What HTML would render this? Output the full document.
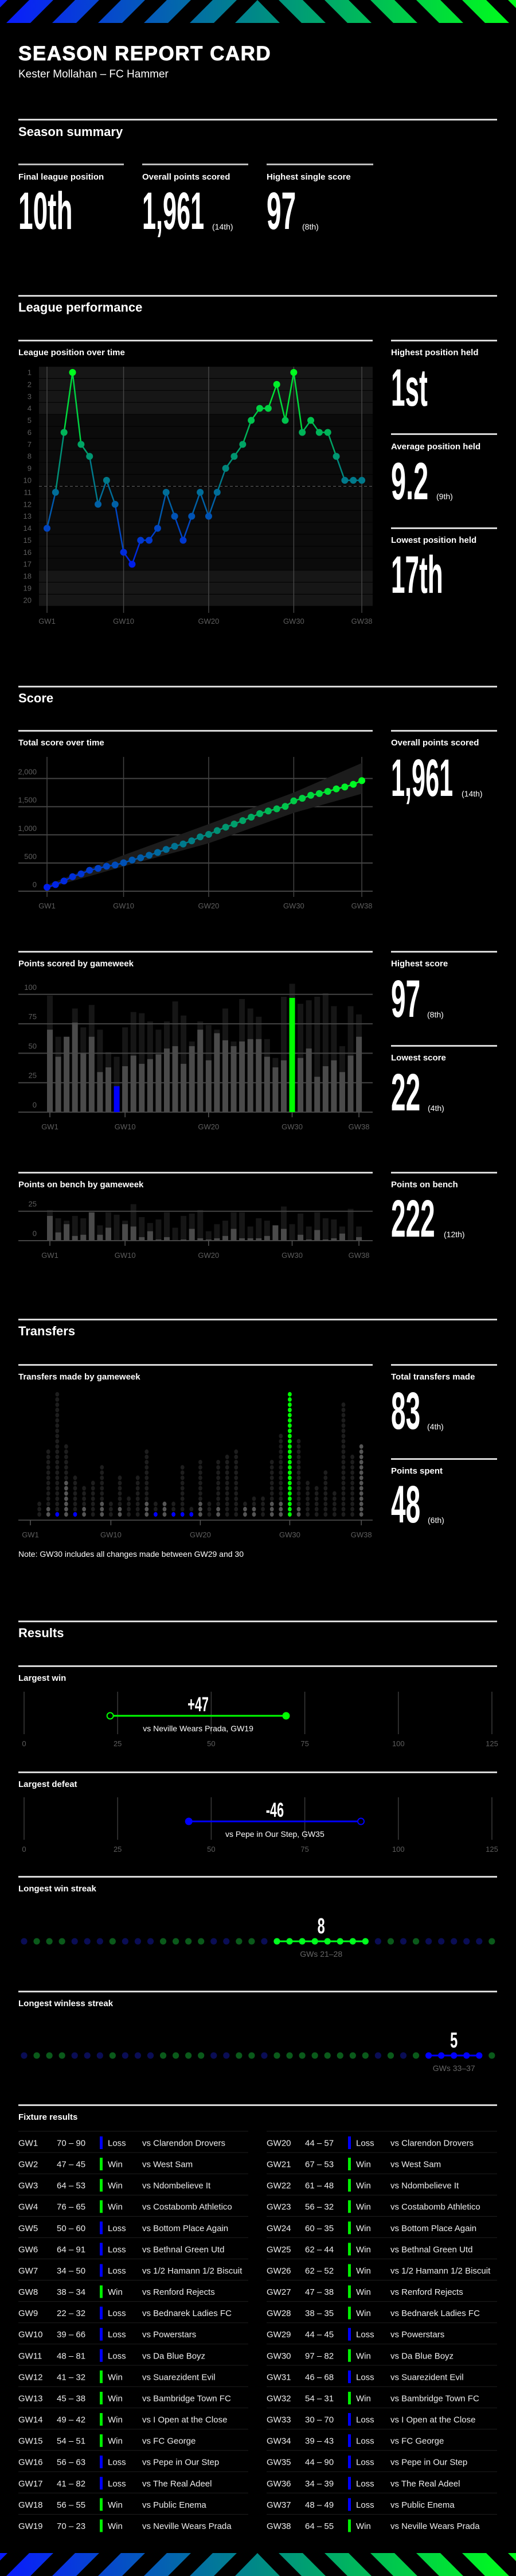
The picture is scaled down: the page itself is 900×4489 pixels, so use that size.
<!DOCTYPE html>
<html><head><meta charset="utf-8"><title>Season Report Card</title>
<style>
html,body{margin:0;padding:0;background:#000;}
svg{display:block;}
text{font-family:"Liberation Sans",Arial,sans-serif;}
.h1{font-size:35px;font-weight:bold;fill:#fff;stroke:#fff;stroke-width:0.8px;letter-spacing:1.5px;}
.sub{font-size:19px;fill:#fff;}
.sec{font-size:22px;font-weight:bold;fill:#fff;}
.lab{font-size:15px;font-weight:bold;fill:#fff;}
.big{font-size:92px;font-weight:bold;fill:#fff;}
.rank{font-size:14px;fill:#fff;}
.tick{font-size:13px;fill:#5e5e5e;}
.fx{font-size:15px;fill:#eee;}
</style></head>
<body>
<svg id="page" xmlns="http://www.w3.org/2000/svg" width="900" height="4489" viewBox="0 0 900 4489">
<defs>
<linearGradient id="stripeGrad" x1="0" y1="0" x2="900" y2="0" gradientUnits="userSpaceOnUse">
<stop offset="0" stop-color="#0a1aff"/><stop offset="0.5" stop-color="#008a86"/><stop offset="1" stop-color="#00ff1a"/>
</linearGradient>
</defs>
<rect x="0" y="0" width="900" height="4489" fill="#000"/>
<g id="headerStripes"></g>
<g id="footerStripes" transform="translate(0,4449)"></g>

<text class="h1" x="32" y="105">SEASON REPORT CARD</text>
<text class="sub" x="32" y="135">Kester Mollahan – FC Hammer</text>

<rect x="32" y="207" width="835" height="3" fill="#d8d8d8"/>
<text class="sec" x="32" y="237">Season summary</text>
<rect x="32" y="285" width="184" height="3" fill="#bdbdbd"/>
<rect x="248" y="285" width="185" height="3" fill="#bdbdbd"/>
<rect x="465" y="285" width="186" height="3" fill="#bdbdbd"/>
<text class="lab" x="32" y="313">Final league position</text>
<text class="lab" x="248" y="313">Overall points scored</text>
<text class="lab" x="465" y="313">Highest single score</text>
<text class="big" transform="translate(32,399) scale(0.5,1)">10th</text>
<text class="big" transform="translate(248,399) scale(0.47,1)">1,961</text>
<text class="rank" x="370" y="400">(14th)</text>
<text class="big" transform="translate(465,399) scale(0.5,1)">97</text>
<text class="rank" x="527" y="400">(8th)</text>

<rect x="32" y="514" width="835" height="3" fill="#d8d8d8"/>
<text class="sec" x="32" y="543">League performance</text>
<rect x="32" y="592" width="618" height="3" fill="#d8d8d8"/>
<text class="lab" x="32" y="619">League position over time</text>
<g id="leagueChart"></g>
<rect x="682" y="592" width="185" height="3" fill="#d8d8d8"/>
<text class="lab" x="682" y="619">Highest position held</text>
<text class="big" transform="translate(682,707) scale(0.48,1)">1st</text>
<rect x="682" y="755" width="185" height="3" fill="#d8d8d8"/>
<text class="lab" x="682" y="783">Average position held</text>
<text class="big" transform="translate(682,870) scale(0.51,1)">9.2</text>
<text class="rank" x="761" y="870">(9th)</text>
<rect x="682" y="919" width="185" height="3" fill="#d8d8d8"/>
<text class="lab" x="682" y="946">Lowest position held</text>
<text class="big" transform="translate(682,1033) scale(0.48,1)">17th</text>

<rect x="32" y="1195" width="835" height="3" fill="#d8d8d8"/>
<text class="sec" x="32" y="1224">Score</text>
<rect x="32" y="1272" width="618" height="3" fill="#d8d8d8"/>
<text class="lab" x="32" y="1299">Total score over time</text>
<g id="scoreChart"></g>
<rect x="682" y="1272" width="185" height="3" fill="#d8d8d8"/>
<text class="lab" x="682" y="1299">Overall points scored</text>
<text class="big" transform="translate(682,1387) scale(0.47,1)">1,961</text>
<text class="rank" x="805" y="1388">(14th)</text>

<rect x="32" y="1657" width="618" height="3" fill="#d8d8d8"/>
<text class="lab" x="32" y="1684">Points scored by gameweek</text>
<g id="pointsChart"></g>
<rect x="682" y="1657" width="185" height="3" fill="#d8d8d8"/>
<text class="lab" x="682" y="1684">Highest score</text>
<text class="big" transform="translate(682,1772) scale(0.5,1)">97</text>
<text class="rank" x="745" y="1773">(8th)</text>
<rect x="682" y="1821" width="185" height="3" fill="#d8d8d8"/>
<text class="lab" x="682" y="1848">Lowest score</text>
<text class="big" transform="translate(682,1935) scale(0.5,1)">22</text>
<text class="rank" x="746" y="1936">(4th)</text>

<rect x="32" y="2042" width="618" height="3" fill="#d8d8d8"/>
<text class="lab" x="32" y="2069">Points on bench by gameweek</text>
<g id="benchChart"></g>
<rect x="682" y="2042" width="185" height="3" fill="#d8d8d8"/>
<text class="lab" x="682" y="2069">Points on bench</text>
<text class="big" transform="translate(682,2155) scale(0.5,1)">222</text>
<text class="rank" x="774" y="2156">(12th)</text>

<rect x="32" y="2298" width="835" height="3" fill="#d8d8d8"/>
<text class="sec" x="32" y="2327">Transfers</text>
<rect x="32" y="2377" width="618" height="3" fill="#d8d8d8"/>
<text class="lab" x="32" y="2404">Transfers made by gameweek</text>
<g id="transfersChart"></g>
<text x="32" y="2713" font-size="14" fill="#fff">Note: GW30 includes all changes made between GW29 and 30</text>
<rect x="682" y="2377" width="185" height="3" fill="#d8d8d8"/>
<text class="lab" x="682" y="2404">Total transfers made</text>
<text class="big" transform="translate(682,2490) scale(0.5,1)">83</text>
<text class="rank" x="745" y="2491">(4th)</text>
<rect x="682" y="2541" width="185" height="3" fill="#d8d8d8"/>
<text class="lab" x="682" y="2568">Points spent</text>
<text class="big" transform="translate(682,2653) scale(0.5,1)">48</text>
<text class="rank" x="746" y="2654">(6th)</text>

<rect x="32" y="2824" width="835" height="3" fill="#d8d8d8"/>
<text class="sec" x="32" y="2853">Results</text>
<rect x="32" y="2902" width="835" height="3" fill="#d8d8d8"/>
<text class="lab" x="32" y="2929">Largest win</text>
<g id="winChart"></g>
<rect x="32" y="3087" width="835" height="3" fill="#d8d8d8"/>
<text class="lab" x="32" y="3114">Largest defeat</text>
<g id="defeatChart"></g>
<rect x="32" y="3269" width="835" height="3" fill="#d8d8d8"/>
<text class="lab" x="32" y="3296">Longest win streak</text>
<g id="winStreak"></g>
<rect x="32" y="3469" width="835" height="3" fill="#d8d8d8"/>
<text class="lab" x="32" y="3496">Longest winless streak</text>
<g id="winlessStreak"></g>
<rect x="32" y="3667" width="835" height="3" fill="#d8d8d8"/>
<text class="lab" x="32" y="3694">Fixture results</text>
<g id="fixtures"></g>
</svg>

<script>
const gameweeks = [1,2,3,4,5,6,7,8,9,10,11,12,13,14,15,16,17,18,19,20,21,22,23,24,25,26,27,28,29,30,31,32,33,34,35,36,37,38];
const leaguePositions = [14,11,6,1,7,8,12,10,12,16,17,15,15,14,11,13,15,13,11,13,11,9,8,7,5,4,4,2,5,1,6,5,6,6,8,10,10,10];
const myPoints = [70,47,64,76,50,64,34,38,22,39,48,41,45,49,54,56,41,56,70,44,67,61,56,60,62,62,47,38,44,97,46,54,30,39,44,34,48,64];
const opponentPoints = [90,45,53,65,60,91,50,34,32,66,81,32,38,42,51,63,82,55,23,57,53,48,32,35,44,52,38,35,45,82,68,31,70,43,90,39,49,55];
const leagueBestPoints = [99,64,64,88,72,91,70,51,47,72,85,84,77,70,77,94,82,60,77,74,70,88,60,96,88,81,62,46,98,109,92,95,98,101,90,56,90,83];
const benchPoints = [21,7,14,4,5,24,5,11,0,14,12,3,8,1,3,0,1,10,2,1,2,4,10,2,2,2,4,13,10,0,5,1,9,1,2,6,0,3];
const leagueBestBench = [26,19,17,21,19,24,13,24,22,17,31,20,15,18,24,11,21,23,26,8,14,17,24,24,12,19,17,13,29,14,23,12,24,19,18,12,27,12];
const transfersMade = [0,0,2,1,7,1,2,0,3,0,2,0,0,3,1,3,1,1,1,3,0,2,0,0,2,2,0,3,3,24,2,0,0,0,0,0,0,14];
const leagueMostTransfers = [0,3,13,24,14,8,6,7,10,3,8,4,8,13,3,3,3,10,2,11,3,11,12,13,3,4,4,11,16,24,15,7,6,9,5,22,12,14];
const bandGameweeks = [1,10,20,30,38];
const bandLow = [50,440,850,1390,1730];
const bandHigh = [110,640,1190,1750,2275];
const opponents = ["Clarendon Drovers","West Sam","Ndombelieve It","Costabomb Athletico","Bottom Place Again","Bethnal Green Utd","1/2 Hamann 1/2 Biscuit","Renford Rejects","Bednarek Ladies FC","Powerstars","Da Blue Boyz","Suarezident Evil","Bambridge Town FC","I Open at the Close","FC George","Pepe in Our Step","The Real Adeel","Public Enema","Neville Wears Prada"];
const positionTicks = [1,2,3,4,5,6,7,8,9,10,11,12,13,14,15,16,17,18,19,20];
const gwTicks = [1,10,20,30,38];
const scoreTicks = [0,500,1000,1500,2000];
const pointTicks = [0,25,50,75,100];
const benchTicks = [0,25];
const marginTicks = [0,25,50,75,100,125];

const NS = "http://www.w3.org/2000/svg";
function el(tag, attrs, parent){
  const e = document.createElementNS(NS, tag);
  for (const k in attrs) e.setAttribute(k, attrs[k]);
  parent.appendChild(e);
  return e;
}
function mix(a,b,t){return [0,1,2].map(i=>Math.round(a[i]+(b[i]-a[i])*t));}
function ramp(t){
  t=Math.max(0,Math.min(1,t));
  const c = t<0.5 ? mix([0,30,235],[0,135,125],t/0.5) : mix([0,135,125],[0,255,30],(t-0.5)/0.5);
  return "rgb("+c.join(",")+")";
}
function fmt(n){return n.toString().replace(/\B(?=(\d{3})+(?!\d))/g, ",");}

function stripes(g){
  const pts = [];
  for (let k=-1;k<5;k++){ const x0=11+80*k; pts.push([[x0,40],[x0+42,40],[x0+82,0],[x0+40,0]]); }
  const right = pts.map(p=>p.map(([x,y])=>[899-x,y]));
  const all = pts.concat(right);
  all.forEach(p=>{
    const s = el("polygon",{points:p.map(q=>q.join(",")).join(" "),fill:"url(#stripeGrad)"},g);
    
    
  });
  const tri = el("polygon",{points:"410,40 488,40 449,0",fill:"url(#stripeGrad)"},g);
  
  
}
stripes(document.getElementById("headerStripes"));
stripes(document.getElementById("footerStripes"));

(function(){
  const g = document.getElementById("leagueChart");
  const xL = gw => 82 + (gw-1)*14.84;
  const yL = p => 649 + (p-1)*20.89;
  positionTicks.forEach(p=>{
    const r = el("rect",{x:68,y:yL(p)-10.45+0.5,width:582,height:19.9,fill:(p<=4||p>=18)?"#161616":"#0b0b0b"},g);
    
    
    const t = el("text",{x:55,y:yL(p)+4.5,"text-anchor":"end",class:"tick"},g);
    t.textContent = p;
    
    
  });
  gwTicks.forEach(gw=>{
    const l = el("line",{x1:xL(gw),x2:xL(gw),y1:639,y2:1068,stroke:"#444","stroke-width":1.5},g);
    
    
    const t = el("text",{x:xL(gw),y:1087,"text-anchor":"middle",class:"tick"},g);
    t.textContent = "GW"+gw;
    
    
  });
  const mid = el("line",{x1:68,x2:650,y1:yL(10.5),y2:yL(10.5),stroke:"#5a5a5a","stroke-width":1.2,"stroke-dasharray":"5,4"},g);
  
  
  const col = p => ramp((17-p)/16);
  for (let i=1;i<gameweeks.length;i++){
    const a=leaguePositions[i-1], b=leaguePositions[i];
    const s = el("line",{x1:xL(gameweeks[i-1]),y1:yL(a),x2:xL(gameweeks[i]),y2:yL(b),stroke:col((a+b)/2),"stroke-width":2.5},g);
    
    
  }
  gameweeks.forEach((gw,i)=>{
    const c = el("circle",{cx:xL(gw),cy:yL(leaguePositions[i]),r:6,fill:col(leaguePositions[i])},g);
    
    
  });
})();

(function(){
  const g = document.getElementById("scoreChart");
  const xS = gw => 82 + (gw-1)*14.84;
  const yS = v => 1553 - v*0.0982;
  scoreTicks.forEach(v=>{
    const l = el("line",{x1:32,x2:650,y1:yS(v),y2:yS(v),stroke:"#444","stroke-width":2},g);
    
    
    const t = el("text",{x:64,y:yS(v)-7,"text-anchor":"end",class:"tick"},g);
    t.textContent = fmt(v);
    
    
  });
  gwTicks.forEach(gw=>{
    const l = el("line",{x1:xS(gw),x2:xS(gw),y1:1319,y2:1563,stroke:"#444","stroke-width":1.5},g);
    
    
    const t = el("text",{x:xS(gw),y:1583,"text-anchor":"middle",class:"tick"},g);
    t.textContent = "GW"+gw;
    
    
  });
  const top = bandGameweeks.map((gw,i)=>xS(gw)+","+yS(bandHigh[i]));
  const bot = bandGameweeks.map((gw,i)=>xS(gw)+","+yS(bandLow[i])).reverse();
  const band = el("polygon",{points:top.concat(bot).join(" "),fill:"#1c1c1c"},g);
  
  
  let cum = 0; const cumulative = myPoints.map(p=>cum+=p);
  for (let i=1;i<gameweeks.length;i++){
    const s = el("line",{x1:xS(gameweeks[i-1]),y1:yS(cumulative[i-1]),x2:xS(gameweeks[i]),y2:yS(cumulative[i]),stroke:ramp((i-0.5)/37),"stroke-width":2.5},g);
    
    
  }
  gameweeks.forEach((gw,i)=>{
    const c = el("circle",{cx:xS(gw),cy:yS(cumulative[i]),r:6,fill:ramp(i/37)},g);
    
    
  });
})();

function barChart(gid, fg, bg, ticks, y0, highlight, labelY){
  const g = document.getElementById(gid);
  const xB = gw => 87 + (gw-1)*14.57;
  const yB = v => y0 - v*2.052;
  ticks.forEach(v=>{
    const t = el("text",{x:64,y:yB(v)-8,"text-anchor":"end",class:"tick"},g);
    t.textContent = v;
    
    
  });
  const maxV = Math.max(...fg), minV = Math.min(...fg);
  gameweeks.forEach((gw,i)=>{
    const b = el("rect",{x:xB(gw)-5,y:yB(bg[i]),width:10,height:bg[i]*2.052,fill:"#161616"},g);
    
    
  });
  ticks.forEach(v=>{
    const l = el("line",{x1:32,x2:650,y1:yB(v),y2:yB(v),stroke:"#444","stroke-width":2},g);
    
    
  });
  gameweeks.forEach((gw,i)=>{
    let fill = "#4a4a4a";
    if (highlight && fg[i]===maxV) fill="#00ff00";
    else if (highlight && fg[i]===minV) fill="#0000ff";
    const b = el("rect",{x:xB(gw)-5,y:yB(fg[i]),width:10,height:fg[i]*2.052,fill:fill},g);
    
    
  });
  gwTicks.forEach(gw=>{
    const l = el("line",{x1:xB(gw),x2:xB(gw),y1:y0,y2:y0+9,stroke:"#555","stroke-width":1.5},g);
    
    
    const t = el("text",{x:xB(gw),y:labelY,"text-anchor":"middle",class:"tick"},g);
    t.textContent = "GW"+gw;
    
    
  });
}
barChart("pointsChart", myPoints, leagueBestPoints, pointTicks, 1938, true, 1968);
barChart("benchChart", benchPoints, leagueBestBench, benchTicks, 2162, false, 2192);

(function(){
  const g = document.getElementById("transfersChart");
  const xT = gw => 53 + (gw-1)*15.6;
  const yT = k => 2639 - k*9.1;
  const maxT = Math.max(...transfersMade);
  const minT = Math.min(...transfersMade.filter(v=>v>0));
  gameweeks.forEach((gw,i)=>{
    const n = Math.max(leagueMostTransfers[i], transfersMade[i]);
    for (let k=0;k<n;k++){
      let fill = "#1d1d1d";
      if (k < transfersMade[i]) {
        fill = transfersMade[i]===maxT ? "#00ff00" : (transfersMade[i]===minT ? "#0000ff" : "#555");
      }
      const d = el("ellipse",{cx:xT(gw),cy:yT(k),rx:3.4,ry:4,fill:fill},g);
      
      
    }
  });
  const ax = el("line",{x1:32,x2:650,y1:2649,y2:2649,stroke:"#555","stroke-width":1.5},g);
  
  
  gwTicks.forEach(gw=>{
    const l = el("line",{x1:xT(gw),x2:xT(gw),y1:2649,y2:2658,stroke:"#555","stroke-width":1.5},g);
    
    
    const t = el("text",{x:xT(gw),y:2679,"text-anchor":"middle",class:"tick"},g);
    t.textContent = "GW"+gw;
    
    
  });
})();

function dumbbell(gid, win, y0){
  const g = document.getElementById(gid);
  const xR = v => 42 + v*6.528;
  let best = 0;
  gameweeks.forEach((gw,i)=>{
    const d = myPoints[i]-opponentPoints[i];
    const bd = myPoints[best]-opponentPoints[best];
    if (win ? d>bd : d<bd) best = i;
  });
  const me = myPoints[best], op = opponentPoints[best];
  const col = win ? "#00ff00" : "#0000ff";
  marginTicks.forEach(v=>{
    const l = el("line",{x1:xR(v),x2:xR(v),y1:y0,y2:y0+74,stroke:"#3a3a3a","stroke-width":1.5},g);
    
    
    const t = el("text",{x:xR(v),y:y0+95,"text-anchor":"middle",class:"tick"},g);
    t.textContent = v;
    
    
  });
  const cy = y0+42;
  const ln = el("line",{x1:xR(me),x2:xR(op),y1:cy,y2:cy,stroke:col,"stroke-width":3},g);
  
  
  const oc = el("circle",{cx:xR(op),cy:cy,r:5.5,fill:"#000",stroke:col,"stroke-width":2},g);
  
  
  const mc = el("circle",{cx:xR(me),cy:cy,r:6.5,fill:col},g);
  
  
  const mid = (xR(me)+xR(op))/2;
  const diff = me-op;
  const v = el("text",{"font-size":35,"font-weight":"bold",fill:"#fff","text-anchor":"middle",transform:"translate("+mid+","+(y0+34)+") scale(0.62,1)"},g);
  v.textContent = (diff>0?"+":"")+diff;
  
  
  const s = el("text",{x:mid,y:y0+69,"font-size":14,fill:"#fff","text-anchor":"middle"},g);
  s.textContent = "vs "+opponents[best%19]+", GW"+gameweeks[best];
  
  
}
dumbbell("winChart", true, 2948);
dumbbell("defeatChart", false, 3132);

function streak(gid, wantWin, y0){
  const g = document.getElementById(gid);
  const xD = i => 42 + i*22.05;
  const isWin = gameweeks.map((gw,i)=>myPoints[i]>opponentPoints[i]);
  let bs=0, bl=0, cs=0, cl=0;
  isWin.forEach((w,i)=>{
    if (w===wantWin){ if(cl===0) cs=i; cl++; if(cl>bl){bl=cl;bs=cs;} } else cl=0;
  });
  const bright = wantWin ? "#00ff1e" : "#0000ff";
  const ln = el("line",{x1:xD(bs),x2:xD(bs+bl-1),y1:y0,y2:y0,stroke:bright,"stroke-width":3},g);
  
  
  isWin.forEach((w,i)=>{
    const inS = i>=bs && i<bs+bl;
    const fill = inS ? bright : (w ? "#0a5a1a" : "#0a0d55");
    const c = el("circle",{cx:xD(i),cy:y0,r:5.6,fill:fill},g);
    
    
  });
  const mid = (xD(bs)+xD(bs+bl-1))/2;
  const n = el("text",{"font-size":38,"font-weight":"bold",fill:"#fff","text-anchor":"middle",transform:"translate("+mid+","+(y0-14)+") scale(0.62,1)"},g);
  n.textContent = bl;
  
  
  const t = el("text",{x:mid,y:y0+27,"font-size":14,fill:"#666","text-anchor":"middle"},g);
  t.textContent = "GWs "+gameweeks[bs]+"–"+gameweeks[bs+bl-1];
  
  
}
streak("winStreak", true, 3383);
streak("winlessStreak", false, 3582);

(function(){
  const g = document.getElementById("fixtures");
  gameweeks.forEach((gw,i)=>{
    const colI = i<19 ? 0 : 1, row = i%19;
    const x0 = colI ? 465 : 32;
    const cy = 3734 + row*37.08;
    const sep = el("line",{x1:x0,x2:x0+(colI?402:401),y1:cy-20,y2:cy-20,stroke:"#1e1e1e","stroke-width":1},g);
    
    
    const win = myPoints[i]>opponentPoints[i];
    const a = el("text",{x:x0,y:cy+5.5,class:"fx"},g);
    a.textContent = "GW"+gw;
    
    
    const b = el("text",{x:x0+67,y:cy+5.5,class:"fx"},g);
    b.textContent = myPoints[i]+" – "+opponentPoints[i];
    
    
    const r = el("rect",{x:x0+142,y:cy-11,width:5,height:22,fill:win?"#00ee00":"#0000ff"},g);
    
    
    const c = el("text",{x:x0+156,y:cy+5.5,class:"fx"},g);
    c.textContent = win ? "Win" : "Loss";
    
    
    const d = el("text",{x:x0+216,y:cy+5.5,class:"fx"},g);
    d.textContent = "vs "+opponents[i%19];
    
    
  });
})();
</script>
</body></html>
